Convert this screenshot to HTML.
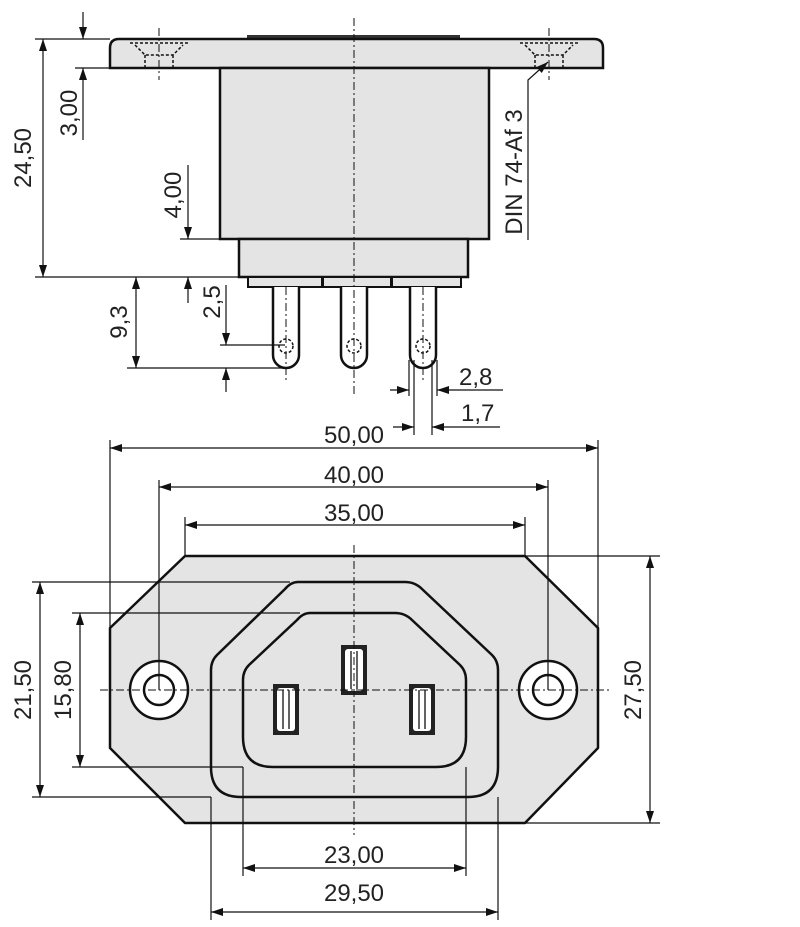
<!DOCTYPE html>
<html><head><meta charset="utf-8"><style>
html,body{margin:0;padding:0;background:#fff;}
svg{display:block;}
text{font-family:"Liberation Sans",sans-serif;font-size:24px;fill:#222;}
</style></head><body>
<svg width="800" height="927" viewBox="0 0 800 927" xmlns="http://www.w3.org/2000/svg">
<defs>
<marker id="a" viewBox="0 0 12 8" refX="12" refY="4" markerWidth="12" markerHeight="8" markerUnits="userSpaceOnUse" orient="auto-start-reverse"><path d="M0,0L12,4L0,8Z" fill="#111"/></marker>
</defs>
<g stroke="#111" fill="none">
<rect x="247" y="35" width="213" height="5" fill="#333" stroke="none"/>
<path d="M110,68 V48 Q110,39 119,39 H594 Q603,39 603,48 V68 Z" fill="#e4e4e4" stroke-width="2.5"/>
<rect x="220" y="68" width="269" height="171" fill="#e4e4e4" stroke-width="2.5"/>
<rect x="239" y="239" width="229" height="38" fill="#e4e4e4" stroke-width="2.5"/>
<rect x="248" y="277" width="74" height="10" fill="#e4e4e4" stroke-width="2"/>
<rect x="323" y="277" width="68" height="10" fill="#e4e4e4" stroke-width="2"/>
<rect x="392" y="277" width="69" height="10" fill="#e4e4e4" stroke-width="2"/>
<path d="M273,287 V355 A13,13 0 0 0 299,355 V287" fill="#fff" stroke-width="2.5"/>
<path d="M341,287 V355 A13,13 0 0 0 367,355 V287" fill="#fff" stroke-width="2.5"/>
<path d="M410,287 V355 A13,13 0 0 0 436,355 V287" fill="#fff" stroke-width="2.5"/>
<g stroke-dasharray="3,2" stroke-width="1.5">
<circle cx="286" cy="346" r="7"/><circle cx="354" cy="346" r="7"/><circle cx="423" cy="346" r="7"/>
<path d="M130,43 H188 M135,45 L145,55 H173 L183,45 M145,55 V68 M173,55 V68"/>
<path d="M520,43 H578 M525,45 L535,55 H563 L573,45 M535,55 V68 M563,55 V68"/>
</g>
<g stroke-dasharray="8,3,2,3" stroke-width="1">
<path d="M354,18 V395"/><path d="M159,28 V80"/><path d="M549,28 V80"/>
<path d="M286,287 V380"/><path d="M423,287 V380"/>
</g>
<g stroke-width="1.2">
<path d="M35,39 H110 M35,277 H240"/>
<path d="M43,39 V277" marker-start="url(#a)" marker-end="url(#a)"/>
<path d="M75,68 H110"/>
<path d="M83,12 V39" marker-end="url(#a)"/>
<path d="M83,140 V68" marker-end="url(#a)"/>
<path d="M180,239 H220"/>
<path d="M188,165 V239" marker-end="url(#a)"/>
<path d="M188,303 V277" marker-end="url(#a)"/>
<path d="M127,368 H285"/>
<path d="M136,277 V368" marker-start="url(#a)" marker-end="url(#a)"/>
<path d="M220,345 H285"/>
<path d="M226,285 V345" marker-end="url(#a)"/>
<path d="M226,392 V368" marker-end="url(#a)"/>
<path d="M409,360 V396 M437,360 V396 M414,360 V435 M432,360 V435"/>
<path d="M390,390 H409" marker-end="url(#a)"/>
<path d="M503,390 H437" marker-end="url(#a)"/>
<path d="M393,427 H414" marker-end="url(#a)"/>
<path d="M500,427 H432" marker-end="url(#a)"/>
<path d="M528,240 V80 L548,62" marker-end="url(#a)"/>
</g>

<path d="M185,556 H525 L598,628 V748 L525,823 H185 L110,748 V628 Z" fill="#e4e4e4" stroke-width="2.5" stroke-linejoin="round"/>
<path d="M298,582 H405 Q415,582 422,589 L492,655 Q498,661 498,670 V767 Q498,797 468,797 H241 Q211,797 211,767 V670 Q211,661 217,655 L285,589 Q291,582 298,582 Z" stroke-width="2.5"/>
<path d="M310,613 H395 Q405,613 412,620 L460,665 Q466,671 466,680 V737 Q466,767 436,767 H273 Q243,767 243,737 V680 Q243,671 249,665 L297,620 Q303,613 310,613 Z" stroke-width="2.5"/>
<g fill="#fff" stroke-width="2.5">
<circle cx="159" cy="690" r="29"/><circle cx="159" cy="690" r="15"/>
<circle cx="548" cy="690" r="29"/><circle cx="548" cy="690" r="15"/>
</g>
<g fill="#222" stroke="none">
<rect x="341" y="645" width="26" height="50"/>
<rect x="273" y="684" width="26" height="51"/>
<rect x="409" y="684" width="26" height="51"/>
</g>
<g fill="#fff" stroke="none">
<rect x="345" y="649" width="18" height="42" rx="3"/>
<rect x="277" y="688" width="18" height="43" rx="3"/>
<rect x="413" y="688" width="18" height="43" rx="3"/>
</g>
<g stroke-width="1.3">
<path d="M351,651 V689 M357,651 V689 M283,690 V729 M289,690 V729 M419,690 V729 M425,690 V729"/>
</g>
<g stroke-dasharray="8,3,2,3" stroke-width="1">
<path d="M100,690 H612"/><path d="M354,545 V835"/>
</g>
<g stroke-width="1.2">
<path d="M110,440 V628 M598,440 V628"/>
<path d="M110,448 H598" marker-start="url(#a)" marker-end="url(#a)"/>
<path d="M159,480 V690 M548,480 V690"/>
<path d="M159,487 H548" marker-start="url(#a)" marker-end="url(#a)"/>
<path d="M185,517 V556 M525,517 V556"/>
<path d="M185,525 H525" marker-start="url(#a)" marker-end="url(#a)"/>
<path d="M525,556 H660 M525,823 H660"/>
<path d="M650,556 V823" marker-start="url(#a)" marker-end="url(#a)"/>
<path d="M32,582 H290 M32,797 H211"/>
<path d="M40,582 V797" marker-start="url(#a)" marker-end="url(#a)"/>
<path d="M72,613 H300 M72,767 H243"/>
<path d="M80,613 V767" marker-start="url(#a)" marker-end="url(#a)"/>
<path d="M243,767 V876 M466,767 V876"/>
<path d="M243,868 H466" marker-start="url(#a)" marker-end="url(#a)"/>
<path d="M211,797 V920 M498,797 V920"/>
<path d="M211,912 H498" marker-start="url(#a)" marker-end="url(#a)"/>
</g>
</g>

<text transform="translate(31,158) rotate(-90)" text-anchor="middle">24,50</text>
<text transform="translate(77,113) rotate(-90)" text-anchor="middle">3,00</text>
<text transform="translate(181,195) rotate(-90)" text-anchor="middle">4,00</text>
<text transform="translate(127,322) rotate(-90)" text-anchor="middle">9,3</text>
<text transform="translate(220,302) rotate(-90)" text-anchor="middle">2,5</text>
<text transform="translate(522,172) rotate(-90)" text-anchor="middle">DIN 74-Af 3</text>
<text x="459" y="385">2,8</text>
<text x="461" y="421">1,7</text>
<text x="354" y="443" text-anchor="middle">50,00</text>
<text x="354" y="483" text-anchor="middle">40,00</text>
<text x="354" y="521" text-anchor="middle">35,00</text>
<text transform="translate(641,690) rotate(-90)" text-anchor="middle">27,50</text>
<text transform="translate(31,690) rotate(-90)" text-anchor="middle">21,50</text>
<text transform="translate(71,690) rotate(-90)" text-anchor="middle">15,80</text>
<text x="354" y="863" text-anchor="middle">23,00</text>
<text x="354" y="901" text-anchor="middle">29,50</text>
</svg>
</body></html>
